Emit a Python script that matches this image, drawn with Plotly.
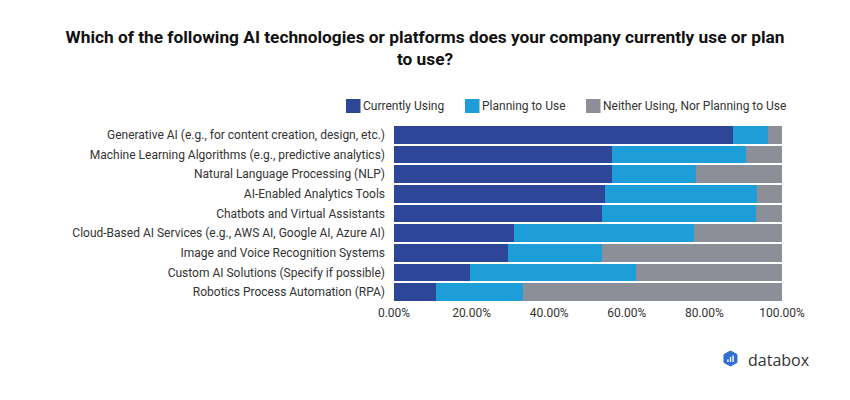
import plotly.graph_objects as go

categories = [
    "Generative AI (e.g., for content creation, design, etc.)",
    "Machine Learning Algorithms (e.g., predictive analytics)",
    "Natural Language Processing (NLP)",
    "AI-Enabled Analytics Tools",
    "Chatbots and Virtual Assistants",
    "Cloud-Based AI Services (e.g., AWS AI, Google AI, Azure AI)",
    "Image and Voice Recognition Systems",
    "Custom AI Solutions (Specify if possible)",
    "Robotics Process Automation (RPA)",
]
currently_using = [87.3, 56.3, 56.3, 54.3, 53.5, 30.9, 29.3, 19.5, 10.7]
planning_to_use = [9.1, 34.4, 21.5, 39.2, 39.7, 46.5, 24.3, 42.8, 22.5]
neither = [3.6, 9.3, 22.2, 6.5, 6.8, 22.6, 46.4, 37.7, 66.8]
series_names = ["Currently Using", "Planning to Use", "Neither Using, Nor Planning to Use"]
colors = ["#2D4697", "#1E9ED9", "#8D8F98"]
tick_vals = [0, 20, 40, 60, 80, 100]
tick_text = ["0.00%", "20.00%", "40.00%", "60.00%", "80.00%", "100.00%"]

# page body has an 8px margin, so the figure is drawn 8px right/down
OFF = 8
W, H = 850 - OFF, 400 - OFF
# plot area in screen pixels: x 394..782, y 125..302
SX0, SX1, SY0, SY1 = 394, 782, 125, 302
L, T = SX0 - OFF, SY0 - OFF
R, B = W - (SX1 - OFF), H - (SY1 - OFF)
PW, PH = SX1 - SX0, SY1 - SY0


def px(x):
    """screen x pixel -> paper coordinate"""
    return (x - SX0) / PW


def py(y):
    """screen y pixel -> paper coordinate"""
    return (SY1 - y) / PH


fig = go.Figure()
for name, vals, col in zip(series_names, [currently_using, planning_to_use, neither], colors):
    fig.add_trace(go.Bar(
        y=categories, x=vals, name=name, orientation="h",
        marker=dict(color=col, line=dict(width=0)),
        hovertemplate="%{y}: %{x:.2f}%<extra>" + name + "</extra>",
        showlegend=False,
    ))

fig.update_layout(
    barmode="stack",
    bargap=0.1,
    width=W, height=H,
    margin=dict(l=L, r=R, t=T, b=B, autoexpand=False),
    paper_bgcolor="white", plot_bgcolor="white",
    font=dict(family="Roboto", size=12, color="#333333"),
    title=dict(
        text="Which of the following AI technologies or platforms does your company currently use or plan<br>to use?",
        x=(425 - OFF) / W, xanchor="center", xref="container",
        y=1 - 35 / H, yanchor="top", yref="container",
        font=dict(family="Roboto", size=17.3, color="#111111", weight="bold"),
    ),
    xaxis=dict(
        range=[0, 100], tickvals=tick_vals, ticktext=tick_text,
        showgrid=False, zeroline=False, showline=False, automargin=False,
        ticklabelstandoff=2,
        tickfont=dict(size=12, color="#333333"), fixedrange=True,
    ),
    yaxis=dict(
        autorange="reversed", showgrid=False, showline=False, automargin=False,
        ticks="", ticklabelstandoff=8,
        tickfont=dict(size=12, color="#333333"),
    ),
)

# legend drawn as squares + labels (screen positions from reference)
legend_sq_x = [346, 465, 586]
for name, col, sx in zip(series_names, colors, legend_sq_x):
    fig.add_shape(type="rect", xref="paper", yref="paper",
                  x0=px(sx), x1=px(sx + 14.5), y0=py(113), y1=py(99),
                  fillcolor=col, line=dict(width=0))
    fig.add_annotation(text=name, xref="paper", yref="paper", x=px(sx + 15), y=py(106),
                       xanchor="left", yanchor="middle", showarrow=False,
                       font=dict(size=12, color="#333333"))

# databox logo (decorative)
hexpts = [(730.5, 351), (737, 354.5), (737, 362.5), (730.5, 366), (724, 362.5), (724, 354.5)]
path = "M " + " L ".join(f"{px(a):.4f} {py(b):.4f}" for a, b in hexpts) + " Z"
fig.add_shape(type="path", xref="paper", yref="paper", path=path,
              fillcolor="#2F6FD3", line=dict(width=1, color="#2F6FD3"))
for x0, x1, ytop in [(727.2, 728.6, 359.5), (729.8, 731.2, 357), (732.4, 733.8, 355.5)]:
    fig.add_shape(type="rect", xref="paper", yref="paper",
                  x0=px(x0), x1=px(x1), y0=py(362), y1=py(ytop),
                  fillcolor="white", line=dict(width=0))
fig.add_annotation(text="databox", xref="paper", yref="paper", x=px(746), y=py(360),
                   xanchor="left", yanchor="middle", showarrow=False,
                   font=dict(family="Open Sans", size=16, color="#333333"))

fig.write_html("out.html")
